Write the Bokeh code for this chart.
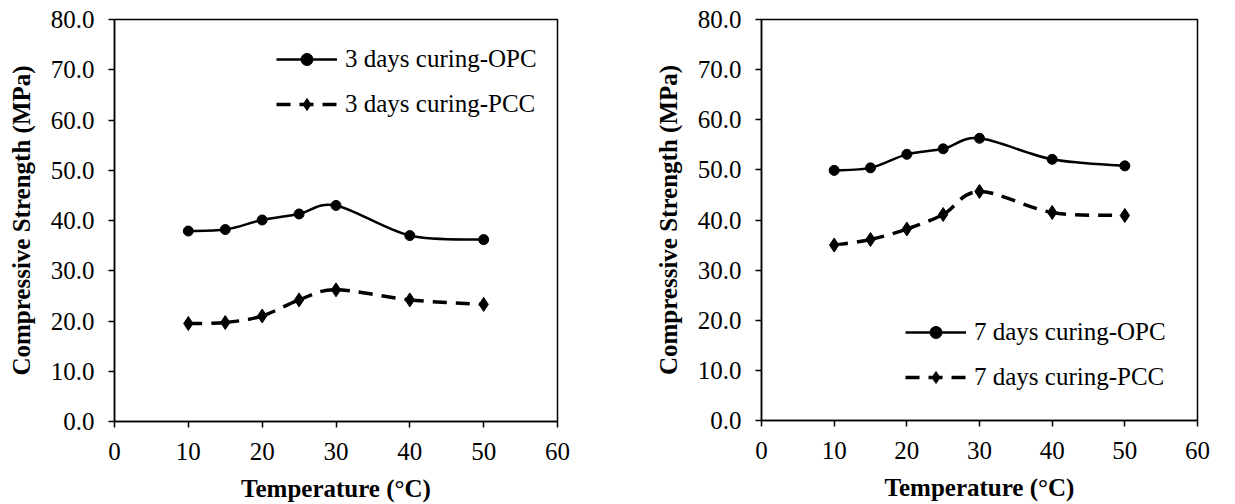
import math
from bokeh.plotting import figure
from bokeh.layouts import row
from bokeh.models import (ColumnDataSource, Legend, LegendItem, FixedTicker,
                          PrintfTickFormatter, Range1d)
from bokeh.embed import file_html
from bokeh.resources import INLINE

# ---- data ----
temperature = [10, 15, 20, 25, 30, 40, 50]
opc_3d = [37.9, 38.2, 40.1, 41.3, 43.0, 37.0, 36.2]
pcc_3d = [19.5, 19.7, 21.0, 24.2, 26.2, 24.2, 23.3]
opc_7d = [49.9, 50.4, 53.1, 54.2, 56.3, 52.1, 50.8]
pcc_7d = [35.0, 36.1, 38.2, 41.1, 45.7, 41.5, 40.9]
x_ticks = [0, 10, 20, 30, 40, 50, 60]
y_ticks = [0, 10, 20, 30, 40, 50, 60, 70, 80]
x_label = "Temperature (°C)"
y_label = "Compressive Strength (MPa)"
labels_3d = ["3 days curing-OPC", "3 days curing-PCC"]
labels_7d = ["7 days curing-OPC", "7 days curing-PCC"]

FONT = "Liberation Serif"
FS = "25px"


def smooth_segments(xs, ys):
    """Cubic Bezier segments (Catmull-Rom style control points) through data."""
    n = len(xs)
    d = dict(x0=[], y0=[], x1=[], y1=[], cx0=[], cy0=[], cx1=[], cy1=[])
    for i in range(n - 1):
        a = i - 1 if i > 0 else i
        b = i + 2 if i + 2 < n else i + 1
        d["x0"].append(xs[i]); d["y0"].append(ys[i])
        d["x1"].append(xs[i + 1]); d["y1"].append(ys[i + 1])
        d["cx0"].append(xs[i] + (xs[i + 1] - xs[a]) / 6.0)
        d["cy0"].append(ys[i] + (ys[i + 1] - ys[a]) / 6.0)
        d["cx1"].append(xs[i + 1] - (xs[b] - xs[i]) / 6.0)
        d["cy1"].append(ys[i + 1] - (ys[b] - ys[i]) / 6.0)
    return ColumnDataSource(d)


def make_fig(fw, fh, bl, br, bt, bb):
    p = figure(frame_width=fw, frame_height=fh,
               min_border_left=bl, min_border_right=br,
               min_border_top=bt, min_border_bottom=bb,
               x_range=Range1d(0, 60), y_range=Range1d(0, 80),
               output_backend="svg", toolbar_location=None)
    p.xgrid.visible = False
    p.ygrid.visible = False
    p.background_fill_color = "white"
    p.border_fill_color = "white"
    p.outline_line_color = "black"
    p.outline_line_width = 1.5
    p.outline_line_alpha = 1.0
    p.xaxis.ticker = FixedTicker(ticks=x_ticks)
    p.yaxis.ticker = FixedTicker(ticks=y_ticks)
    p.yaxis.formatter = PrintfTickFormatter(format="%.1f")
    for ax in (p.xaxis[0], p.yaxis[0]):
        ax.axis_line_color = "black"
        ax.axis_line_width = 1.5
        ax.major_tick_line_color = "black"
        ax.major_tick_line_width = 1.5
        ax.major_tick_out = 6
        ax.major_tick_in = 0
        ax.minor_tick_line_color = None
        ax.major_label_text_font = FONT
        ax.major_label_text_font_size = FS
        ax.major_label_text_color = "black"
        ax.axis_label_text_font = FONT
        ax.axis_label_text_font_size = FS
        ax.axis_label_text_font_style = "bold"
        ax.axis_label_text_color = "black"
    p.xaxis.major_label_standoff = 15
    p.yaxis.major_label_standoff = 14
    p.xaxis.axis_label_standoff = 12
    p.yaxis.axis_label_standoff = 13
    p.xaxis.axis_label = x_label
    p.yaxis.axis_label = y_label
    return p


def add_series(p, opc, pcc, labels, loc):
    b1 = p.bezier(x0="x0", y0="y0", x1="x1", y1="y1", cx0="cx0", cy0="cy0",
                  cx1="cx1", cy1="cy1", source=smooth_segments(temperature, opc),
                  line_color="black", line_width=2.5)
    s1 = p.scatter(temperature, opc, marker="circle", size=10,
                   fill_color="black", line_color="black")
    b2 = p.bezier(x0="x0", y0="y0", x1="x1", y1="y1", cx0="cx0", cy0="cy0",
                  cx1="cx1", cy1="cy1", source=smooth_segments(temperature, pcc),
                  line_color="black", line_width=3.5, line_dash="14 9")
    s2 = p.scatter(temperature, pcc, marker="diamond", size=14,
                   fill_color="black", line_color="black")
    leg = Legend(items=[LegendItem(label=labels[0], renderers=[b1, s1]),
                        LegendItem(label=labels[1], renderers=[b2, s2])],
                 location=loc, orientation="vertical",
                 background_fill_alpha=0, border_line_color=None,
                 padding=0, margin=0, spacing=15,
                 glyph_width=61, glyph_height=30, label_height=30,
                 label_standoff=8, label_text_font=FONT,
                 label_text_font_size=FS, label_text_color="black")
    p.add_layout(leg)


p1 = make_fig(443, 402, 114, 60, 19, 83)
add_series(p1, opc_3d, pcc_3d, labels_3d, (162, 302))

p2 = make_fig(436, 401, 144, 38, 19, 84)
add_series(p2, opc_7d, pcc_7d, labels_7d, (144, 28))

layout = row(p1, p2)
open("out.html", "w").write(file_html(layout, INLINE))
